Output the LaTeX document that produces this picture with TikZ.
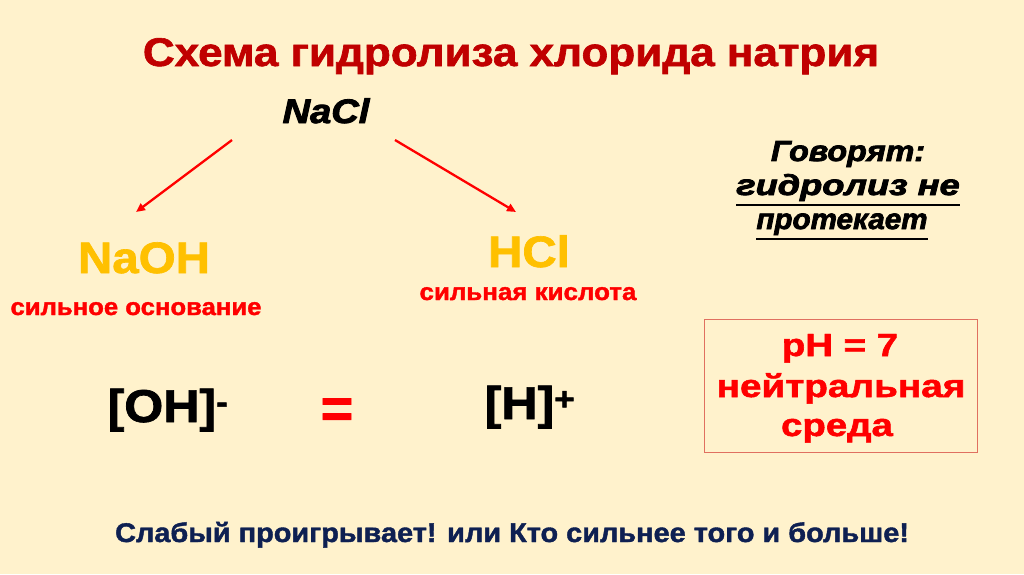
\documentclass[tikz,border=0pt]{standalone}
\usepackage{fontspec}
\usepackage{graphicx}
\setmainfont{Liberation Sans}
\newfontface\hv{Liberation Sans Bold}[FakeBold=1.5]
\newfontface\hvi{Liberation Sans Bold Italic}[FakeBold=2.5]
\usetikzlibrary{arrows.meta}
\definecolor{bg}{HTML}{FFF2CC}
\definecolor{titlered}{HTML}{C00000}
\definecolor{myred}{HTML}{FF0000}
\definecolor{gold}{HTML}{FFC000}
\definecolor{navy}{HTML}{0E2052}
\definecolor{boxred}{HTML}{E07060}
\newcommand{\sx}[2]{\scalebox{#1}[1]{#2}}
\tikzset{
  lbl/.style={inner sep=0pt, anchor=base},
  uline/.style={line width=2pt, black},
  redarrow/.style={draw=myred, line width=2.3pt, -{Triangle[length=9pt,width=8pt]}}
}
\begin{document}
\begin{tikzpicture}[x=1pt,y=-1pt]
\fill[bg] (0,0) rectangle (1024,574);
\useasboundingbox (0,0) rectangle (1024,574);
\node[lbl, text=titlered, font=\fontsize{40}{44}\hv] (title) at (511,66) {\sx{1.10}{Схема гидролиза хлорида натрия}};
\node[lbl, font=\fontsize{34}{38}\hvi] (nacl) at (326,123) {\sx{1.12}{NaCl}};
\coordinate (ls) at (232,140);
\coordinate (le) at (136,212);
\coordinate (rs) at (395,140);
\coordinate (re) at (516,212);
\draw[redarrow] (ls) -- (le);
\draw[redarrow] (rs) -- (re);
\node[lbl, text=gold, font=\fontsize{44}{48}\hv] (naoh) at (144,273) {\sx{1.08}{NaOH}};
\node[lbl, text=gold, font=\fontsize{44}{48}\hv] (hcl) at (529,267) {\sx{1.08}{HCl}};
\node[lbl, text=myred, font=\fontsize{24}{28}\hv] (osn) at (136,315) {\sx{1.07}{сильное основание}};
\node[lbl, text=myred, font=\fontsize{24}{28}\hv] (kisl) at (528,300) {\sx{1.08}{сильная кислота}};
\node[lbl, font=\fontsize{29}{34}\hvi] (gov) at (848,161) {\sx{1.11}{Говорят:}};
\node[lbl, font=\fontsize{29}{34}\hvi] (gidr) at (848,195) {\sx{1.25}{гидролиз не}};
\node[lbl, font=\fontsize{29}{34}\hvi] (prot) at (842,229) {\sx{1.02}{протекает}};
\draw[uline] ([yshift=-10pt]gidr.base west) -- ([yshift=-10pt]gidr.base east);
\draw[uline] ([yshift=-10pt]prot.base west) -- ([yshift=-10pt]prot.base east);
\node[draw=boxred, line width=1pt, minimum width=273pt, minimum height=133pt, inner sep=0pt] (box) at (840.5,385.5) {};
\node[lbl, text=myred, font=\fontsize{32}{36}\hv] (ph) at (840,356) {\sx{1.2}{pH = 7}};
\node[lbl, text=myred, font=\fontsize{32}{36}\hv] (neut) at (841,397) {\sx{1.21}{нейтральная}};
\node[lbl, text=myred, font=\fontsize{32}{36}\hv] (sreda) at (837,436) {\sx{1.2}{среда}};
\node[lbl, font=\fontsize{46}{50}\hv] (oh) at (168,422) {\sx{1.09}{[OH]\textsuperscript{-}}};
\node[inner sep=0pt, text=myred, font=\fontsize{56}{60}\hv] (eq) at (337,413) {=};
\node[lbl, font=\fontsize{46}{50}\hv] (h) at (530,419) {\sx{1.09}{[H]\textsuperscript{+}}};
\node[lbl, text=navy, font=\fontsize{27}{30}\hv] (bottom) at (512,542) {\sx{1.07}{Слабый проигрывает! или Кто сильнее того и больше!}};
\end{tikzpicture}
\end{document}
